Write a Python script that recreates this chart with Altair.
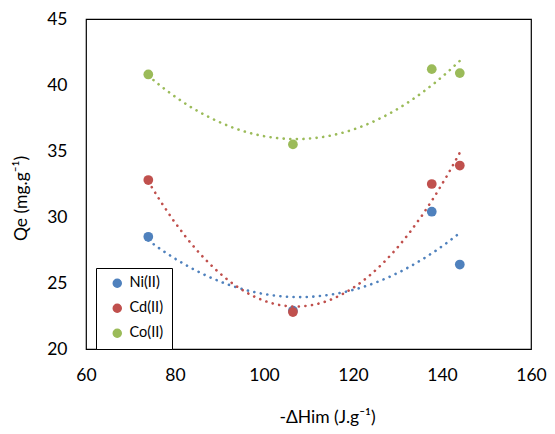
import altair as alt
import pandas as pd

x_vals = [74, 106.5, 137.7, 144]
ni_vals = [28.5, 22.9, 30.4, 26.4]
cd_vals = [32.8, 22.8, 32.5, 33.9]
co_vals = [40.8, 35.5, 41.2, 40.9]
series_names = ["Ni(II)", "Cd(II)", "Co(II)"]
series_colors = ["#4F81BD", "#C0504D", "#9BBB59"]
x_ticks = [60, 80, 100, 120, 140, 160]
y_ticks = [20, 25, 30, 35, 40, 45]

rows = []
for name, vals in zip(series_names, [ni_vals, cd_vals, co_vals]):
    for xv, yv in zip(x_vals, vals):
        rows.append({"x": xv, "y": yv, "series": name, "order": series_names.index(name)})
df = pd.DataFrame(rows)

FONT = "Lato"

xenc = alt.X("x:Q", scale=alt.Scale(domain=[60, 160], nice=False, zero=False),
             axis=alt.Axis(values=x_ticks, title="-ΔHim (J.g⁻¹)", grid=False, ticks=False,
                           labelPadding=17, domain=False, labelFlush=False,
                           titleX=241, titleY=73, titleAlign="center", titleBaseline="alphabetic"))
yenc = alt.Y("y:Q", scale=alt.Scale(domain=[20, 45], nice=False, zero=False),
             axis=alt.Axis(values=y_ticks, title="Qe (mg.g⁻¹)", grid=False, ticks=False,
                           labelPadding=19, domain=False, labelFlush=False,
                           titleX=-60, titleY=179, titleAngle=270, titleAlign="center",
                           titleBaseline="alphabetic"))
color_scale = alt.Scale(domain=series_names, range=series_colors)

base = alt.Chart(df)

lines = base.transform_regression(
    "x", "y", method="poly", order=2, groupby=["series"]
).mark_line(strokeDash=[0.1, 6.5], strokeCap="round", strokeWidth=2.6).encode(
    x=xenc, y=yenc,
    color=alt.Color("series:N", scale=color_scale, legend=None),
)

points = base.mark_circle(size=95, opacity=1).encode(
    x=xenc, y=yenc,
    color=alt.Color("series:N", scale=color_scale, sort=series_names,
                    legend=alt.Legend(title=None, orient="none", legendX=10, legendY=249,
                                      symbolType="circle", symbolSize=64, symbolOpacity=1,
                                      labelFontSize=14.5, labelFont=FONT, labelColor="black",
                                      rowPadding=9, padding=8, symbolOffset=6, labelOffset=5,
                                      strokeColor="black", fillColor="white")),
    order=alt.Order("order:Q"),
)

chart = alt.layer(points, lines).properties(
    width=445, height=330,
    autosize=alt.AutoSizeParams(type="none"),
    padding={"left": 78, "top": 11, "right": 16, "bottom": 77},
).configure_view(stroke="black", strokeWidth=1.2).configure_axis(
    labelFont=FONT, titleFont=FONT, labelFontSize=17.5, titleFontSize=17.5,
    labelColor="black", titleColor="black", titleFontWeight="normal",
)

chart.save("out.html", embed_options={"renderer": "svg", "actions": False})
